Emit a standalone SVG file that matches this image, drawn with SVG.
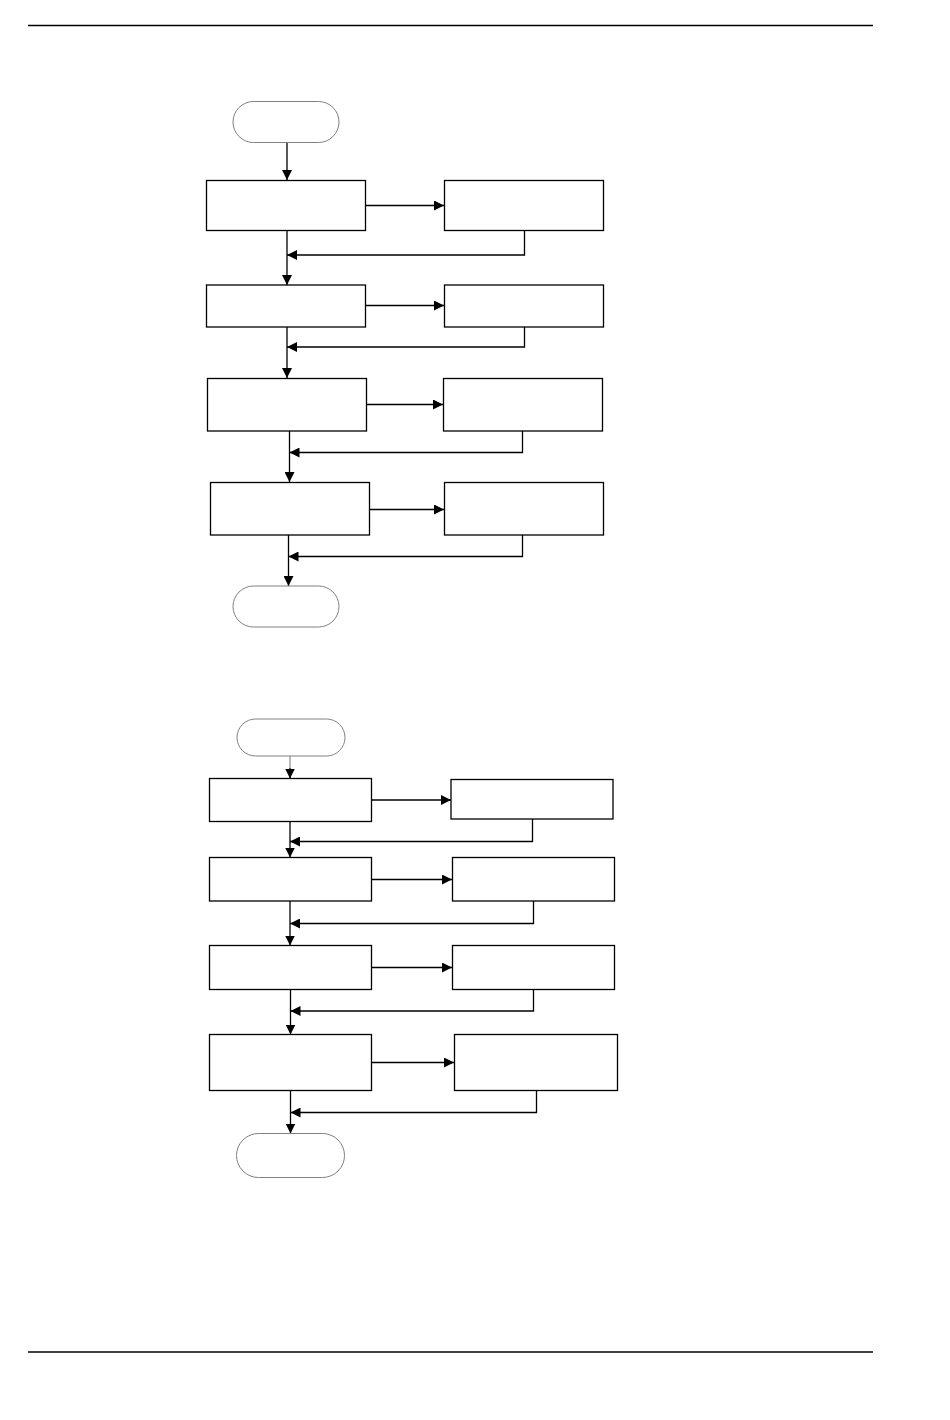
<svg xmlns="http://www.w3.org/2000/svg" width="950" height="1420" viewBox="0 0 950 1420">
<style>
.box{fill:#fff;stroke:#000;stroke-width:1.3}
.term{fill:#fff;stroke:#808080;stroke-width:1}
.c{fill:none;stroke:#000;stroke-width:1.3}
.g{fill:none;stroke:#808080;stroke-width:1.1}
.rule{stroke:#000;stroke-width:1.4}
</style>
<defs>
<marker id="ah" viewBox="0 0 10 10" refX="10" refY="5" markerWidth="10" markerHeight="10" markerUnits="userSpaceOnUse" orient="auto">
<path d="M0,0 L10,5 L0,10 z" fill="#000"/>
</marker>
</defs>
<line class="rule" x1="28" y1="25.5" x2="873" y2="25.5"/>
<line class="rule" x1="28" y1="1352" x2="873" y2="1352"/>

<g id="connectors">
<!-- diagram 1 -->
<path class="c" d="M287,142 V180" marker-end="url(#ah)"/>
<path class="c" d="M366,205.5 H444" marker-end="url(#ah)"/>
<path class="c" d="M524.5,230 V255 H287" marker-end="url(#ah)"/>
<path class="c" d="M287,230 V285" marker-end="url(#ah)"/>
<path class="c" d="M366,305.5 H444" marker-end="url(#ah)"/>
<path class="c" d="M524.5,327 V347 H287" marker-end="url(#ah)"/>
<path class="c" d="M287,327 V378" marker-end="url(#ah)"/>
<path class="c" d="M366,404.5 H443" marker-end="url(#ah)"/>
<path class="c" d="M522.5,431 V452.5 H289.5" marker-end="url(#ah)"/>
<path class="c" d="M289.5,431 V482" marker-end="url(#ah)"/>
<path class="c" d="M368,509.5 H444" marker-end="url(#ah)"/>
<path class="c" d="M522.5,535 V556.5 H288.5" marker-end="url(#ah)"/>
<path class="c" d="M288.5,535 V586" marker-end="url(#ah)"/>
<!-- diagram 2 -->
<path class="g" d="M290,756 V768"/>
<path class="c" d="M290,768 V778.5" marker-end="url(#ah)"/>
<path class="c" d="M370,800 H451" marker-end="url(#ah)"/>
<path class="c" d="M532.5,819 V841.5 H290" marker-end="url(#ah)"/>
<path class="c" d="M290,821 V857.5" marker-end="url(#ah)"/>
<path class="c" d="M371,879.5 H452" marker-end="url(#ah)"/>
<path class="c" d="M533.5,901 V923.5 H290" marker-end="url(#ah)"/>
<path class="c" d="M290,901 V945.5" marker-end="url(#ah)"/>
<path class="c" d="M371,967.5 H452" marker-end="url(#ah)"/>
<path class="c" d="M533.5,989 V1011 H290.5" marker-end="url(#ah)"/>
<path class="c" d="M290.5,989 V1034.5" marker-end="url(#ah)"/>
<path class="c" d="M371,1062.5 H454" marker-end="url(#ah)"/>
<path class="c" d="M536.5,1090 V1112.5 H290.5" marker-end="url(#ah)"/>
<path class="c" d="M290.5,1090 V1133.5" marker-end="url(#ah)"/>
</g>

<!-- diagram 1 nodes -->
<g id="d1-start"><rect class="term" x="233" y="101.5" width="106" height="41" rx="20.5"/></g>
<g id="d1-step1"><rect class="box" x="206.5" y="180.5" width="159" height="50"/></g>
<g id="d1-side1"><rect class="box" x="444.5" y="180.5" width="159" height="50"/></g>
<g id="d1-step2"><rect class="box" x="206.5" y="285" width="159" height="42"/></g>
<g id="d1-side2"><rect class="box" x="444.5" y="285" width="159" height="42"/></g>
<g id="d1-step3"><rect class="box" x="207.5" y="378.5" width="159" height="52.5"/></g>
<g id="d1-side3"><rect class="box" x="443.5" y="378.5" width="159" height="52.5"/></g>
<g id="d1-step4"><rect class="box" x="210.5" y="482.5" width="159" height="52.5"/></g>
<g id="d1-side4"><rect class="box" x="444.5" y="482.5" width="159" height="52.5"/></g>
<g id="d1-end"><rect class="term" x="233" y="586" width="106" height="41" rx="20.5"/></g>

<!-- diagram 2 nodes -->
<g id="d2-start"><rect class="term" x="237" y="719" width="108" height="37" rx="18.5"/></g>
<g id="d2-step1"><rect class="box" x="209.5" y="778.5" width="162" height="43"/></g>
<g id="d2-side1"><rect class="box" x="451" y="779.5" width="162" height="39.5"/></g>
<g id="d2-step2"><rect class="box" x="209.5" y="857.5" width="162" height="43.5"/></g>
<g id="d2-side2"><rect class="box" x="452.5" y="857.5" width="162" height="43.5"/></g>
<g id="d2-step3"><rect class="box" x="209.5" y="945.5" width="162" height="44"/></g>
<g id="d2-side3"><rect class="box" x="452.5" y="945.5" width="162" height="44"/></g>
<g id="d2-step4"><rect class="box" x="209.5" y="1034.5" width="162" height="56"/></g>
<g id="d2-side4"><rect class="box" x="454.5" y="1034.5" width="163" height="56"/></g>
<g id="d2-end"><rect class="term" x="236.5" y="1133.5" width="108" height="44" rx="22"/></g>
</svg>
